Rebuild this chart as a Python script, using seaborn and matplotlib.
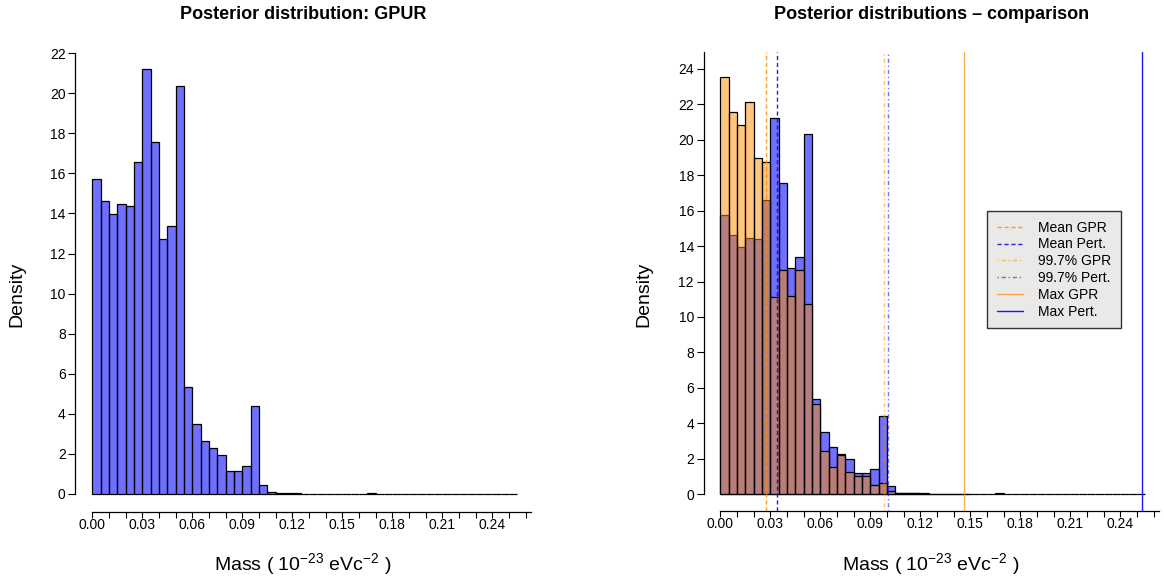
import numpy as np
import pandas as pd
import matplotlib
matplotlib.use("Agg")
import matplotlib.pyplot as plt
import seaborn as sns

sns.set_style("ticks")
plt.rcParams['font.family'] = ['Liberation Sans', 'DejaVu Sans']
plt.rcParams['mathtext.fontset'] = 'custom'
plt.rcParams['mathtext.rm'] = 'Liberation Sans'
plt.rcParams['mathtext.it'] = 'Liberation Sans:italic'
plt.rcParams['mathtext.bf'] = 'Liberation Sans:bold'
for key in ['text.color', 'axes.labelcolor', 'xtick.color', 'ytick.color']:
    plt.rcParams[key] = 'black'

#%% Data (densities per bin, bins of width 0.005 starting at 0)

bin_width = 0.005

pert_density = [15.73, 14.63, 13.97, 14.47, 14.38, 16.58, 21.22, 17.58, 12.75, 13.38,
                20.35, 5.35, 3.50, 2.65, 2.28, 1.95, 1.17, 1.17, 1.40, 4.38,
                0.45, 0.08, 0.06, 0.04, 0.03, 0.02, 0.02, 0.02, 0.01, 0.01,
                0.01, 0.00, 0.01, 0.03, 0.02, 0.00, 0.00, 0.00, 0.00, 0.00,
                0.00, 0.00, 0.00, 0.00, 0.00, 0.00, 0.00, 0.00, 0.01, 0.02,
                0.01]

gpr_density = [23.56, 21.57, 20.82, 22.15, 18.95, 18.73, 11.10, 12.63, 11.16, 12.63,
               10.71, 5.06, 2.45, 1.50, 2.22, 1.22, 1.02, 1.02, 0.51, 0.60,
               0.17, 0.06, 0.04, 0.03, 0.02, 0.02, 0.01, 0.01, 0.01, 0.01]

mean_gpr, mean_pert = 0.0271, 0.0341
q997_gpr, q997_pert = 0.0984, 0.1007
max_gpr, max_pert = 0.1461, 0.2532

x_major = [0.00, 0.03, 0.06, 0.09, 0.12, 0.15, 0.18, 0.21, 0.24]
x_labels = ['0.00', '0.03', '0.06', '0.09', '0.12', '0.15', '0.18', '0.21', '0.24']
x_minor = [i / 100 for i in range(27)]

pert_edges = [i * bin_width for i in range(len(pert_density) + 1)]
gpr_edges = [i * bin_width for i in range(len(gpr_density) + 1)]
df_pert = pd.DataFrame({'mass': np.array(pert_edges[:-1]) + bin_width / 2, 'density': pert_density})
df_gpr = pd.DataFrame({'mass': np.array(gpr_edges[:-1]) + bin_width / 2, 'density': gpr_density})

#%% Figure

W, H = 1164, 580
fig = plt.figure(figsize=(W / 100, H / 100), dpi=100)
ax1 = fig.add_axes([75.4 / W, 1 - 511.6 / H, 455.6 / W, 476 / H])
ax2 = fig.add_axes([703.6 / W, 1 - 511 / H, 455.4 / W, 459 / H])

blue = '#0000ff'
orange = '#ff8c00'

sns.histplot(data=df_pert, x='mass', weights='density', bins=pert_edges, stat='count',
             color=blue, alpha=0.56, edgecolor='black', linewidth=0.9, ax=ax1)

sns.histplot(data=df_pert, x='mass', weights='density', bins=pert_edges, stat='count',
             color=blue, alpha=0.56, edgecolor='black', linewidth=0.9, ax=ax2)
sns.histplot(data=df_gpr, x='mass', weights='density', bins=gpr_edges, stat='count',
             color=orange, alpha=0.5, edgecolor='black', linewidth=0.9, ax=ax2)

dash = (0, (3, 2))
dotdash = (0, (1, 2, 3, 2))
h1 = ax2.axvline(mean_gpr, color=orange, ls=dash, lw=1, alpha=0.85)
h2 = ax2.axvline(mean_pert, color='#0000dd', ls=dash, lw=1, alpha=0.85)
h3 = ax2.axvline(q997_gpr, color=orange, ls=dotdash, lw=1, alpha=0.55)
h4 = ax2.axvline(q997_pert, color=blue, ls=dotdash, lw=1, alpha=0.55)
h5 = ax2.axvline(max_gpr, color=orange, ls='-', lw=1, alpha=0.7)
h6 = ax2.axvline(max_pert, color=blue, ls='-', lw=1, alpha=0.9)


def style_axis(ax, ylim, ytop_spine, yticks):
    ax.set_xlim(-0.0101, 0.2633)
    ax.set_ylim(*ylim)
    ax.spines['top'].set_visible(False)
    ax.spines['right'].set_visible(False)
    ax.spines['left'].set_bounds(0, ytop_spine)
    ax.spines['bottom'].set_bounds(0, 0.2633)
    for s in ['left', 'bottom']:
        ax.spines[s].set_linewidth(0.9)
        ax.spines[s].set_color('black')
    ax.set_xticks(x_major)
    ax.set_xticklabels(x_labels)
    ax.set_xticks(x_minor, minor=True)
    ax.set_yticks(yticks)
    ax.tick_params(axis='x', which='both', direction='out', length=4, width=0.8, pad=0.5,
                   labelsize=10, colors='black')
    ax.tick_params(axis='y', direction='out', length=5, width=0.8, pad=2, labelsize=10,
                   colors='black')
    ax.grid(False)


style_axis(ax1, (-0.88, 22.88), 22, list(range(0, 23, 2)))
style_axis(ax2, (-0.96, 24.96), 24.96, list(range(0, 25, 2)))

xlabel = r'Mass ( $10^{-23}$ eVc$^{-2}$ )'
for ax, ly, lx, xy in [(ax1, 0.457, -0.1106, -0.083), (ax2, 0.473, -0.113, -0.087)]:
    ax.set_ylabel('Density', fontsize=14, color='black')
    ax.yaxis.set_label_coords(lx, ly)
    ax.set_xlabel(xlabel, fontsize=14, color='black')
    ax.xaxis.set_label_coords(0.498, xy)

ax1.set_title('Posterior distribution: GPUR', fontsize=13, fontweight='bold', y=1.0349, pad=0,
              color='black')
ax2.set_title('Posterior distributions \u2013 comparison', fontsize=13, fontweight='bold', y=1.0719,
              pad=0, color='black')

leg = ax2.legend([h1, h2, h3, h4, h5, h6],
                 ['Mean GPR', 'Mean Pert.', '99.7% GPR', '99.7% Pert.', 'Max GPR', 'Max Pert.'],
                 loc='upper left', bbox_to_anchor=(987 / W, 1 - 211 / H), bbox_transform=fig.transFigure,
                 fontsize=10, frameon=True, fancybox=False, framealpha=1, facecolor='#ebe9e7',
                 edgecolor='#333333', borderaxespad=0, handlelength=1.9, handletextpad=1.1,
                 labelspacing=0.2, borderpad=0.7, labelcolor='black')
leg.get_frame().set_linewidth(1.0)

fig.savefig('out.png', dpi=100)
